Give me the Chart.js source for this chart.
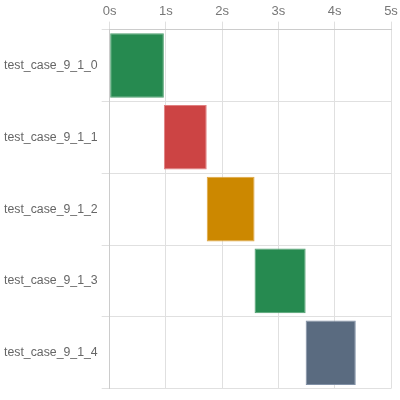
<!DOCTYPE html>
<html><head><meta charset="utf-8">
<script src="https://cdn.jsdelivr.net/npm/chart.js@4"></script>
<style>html,body{margin:0;padding:0;background:#fff}#w{width:400px;height:400px}</style>
</head><body><div id="w"><canvas id="c"></canvas></div>
<script>
const categories = ["test_case_9_1_0","test_case_9_1_1","test_case_9_1_2","test_case_9_1_3","test_case_9_1_4"];
const startTimes = [0, 0.963, 1.725, 2.575, 3.483];
const endTimes = [0.963, 1.725, 2.575, 3.483, 4.374];
const barColors = ["#268a50","#cc4444","#cc8800","#268a50","#5a6b80"];
const borderColors = ["#4fa06f","#e07f80","#e0a640","#4fa06f","#8090a6"];
const tickMax = 5;

Chart.defaults.font.family = "'Liberation Sans', Arial, sans-serif";
Chart.defaults.font.size = 12;
Chart.defaults.color = "#666";

new Chart(document.getElementById('c'), {
  type: 'bar',
  data: {
    labels: categories,
    datasets: [{
      data: categories.map((c,i)=>[startTimes[i], endTimes[i]]),
      backgroundColor: barColors,
      borderColor: borderColors,
      borderWidth: 1,
      borderSkipped: false,
      barPercentage: 0.9,
      categoryPercentage: 1
    }]
  },
  options: {
    indexAxis: 'y',
    responsive: true,
    maintainAspectRatio: false,
    animation: false,
    layout: {padding: {left: 0, right: 9, top: 2, bottom: 7}},
    plugins: {legend: {display: false}, tooltip: {enabled: false}},
    scales: {
      x: {
        position: 'top',
        min: 0, max: tickMax,
        ticks: {stepSize: 1, callback: v => v + 's', padding: 2, font: {size: 13}, color: '#777'},
        grid: {color: '#e0e0e0'},
        border: {color: '#ccc'}
      },
      y: {
        grid: {color: '#e0e0e0', offset: true},
        border: {color: '#ccc'},
        ticks: {padding: 4, font: {size: 12.3}}
      }
    }
  }
});
</script></body></html>
